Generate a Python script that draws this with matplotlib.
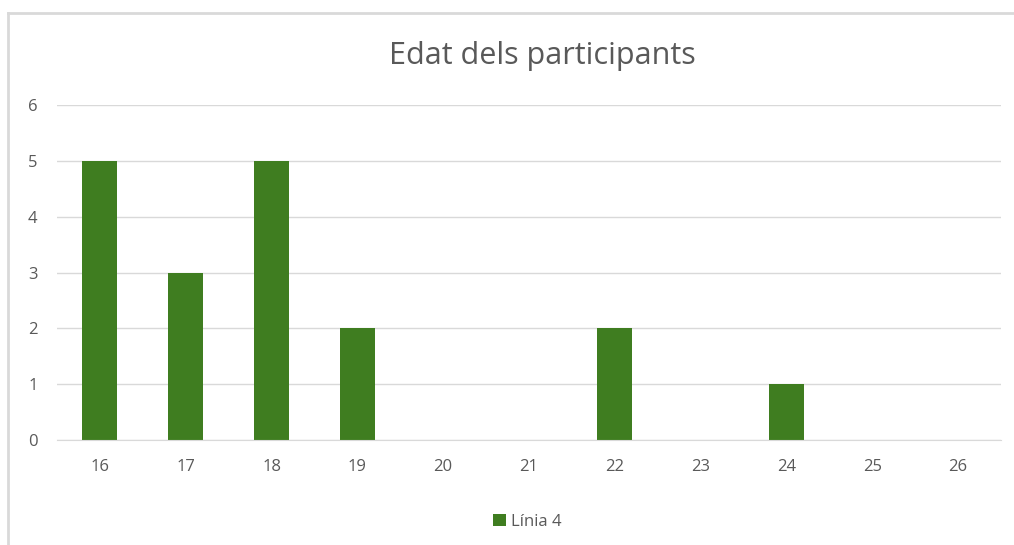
import matplotlib
matplotlib.use('Agg')
import matplotlib.pyplot as plt
from matplotlib.lines import Line2D
from matplotlib.patches import Patch

ages   = ['16', '17', '18', '19', '20', '21', '22', '23', '24', '25', '26']
counts = [5, 3, 5, 2, 0, 0, 2, 0, 1, 0, 0]

BAR_COLOR  = '#3f7d20'
TEXT_COLOR = '#595959'
GRID_COLOR = '#d9d9d9'

plt.rcParams['font.family'] = ['Open Sans', 'DejaVu Sans']

fig = plt.figure(figsize=(10.14, 5.45), dpi=100)
ax = fig.add_axes([0.0562, 0.1927, 0.931, 0.6143])

x = range(len(ages))
ax.bar(x, counts, width=0.41, color=BAR_COLOR, label='Línia 4', zorder=3)

ax.set_xlim(-0.5, len(ages) - 0.5)
ax.set_ylim(0, 6)
ax.set_xticks(list(x))
ax.set_xticklabels(ages)
ax.set_yticks(range(7))
ax.tick_params(axis='both', length=0, labelsize=12, colors=TEXT_COLOR)
ax.tick_params(axis='x', pad=14)
ax.tick_params(axis='y', pad=14)
ax.yaxis.grid(True, color=GRID_COLOR, linewidth=1.0, zorder=0)
for side in ['top', 'right', 'left']:
    ax.spines[side].set_visible(False)
ax.spines['bottom'].set_color(GRID_COLOR)
ax.spines['bottom'].set_zorder(4)

fig.text(0.535, 0.898, 'Edat dels participants', ha='center', va='center',
         fontsize=22, color=TEXT_COLOR)

handles = [Patch(facecolor=BAR_COLOR, label='Línia 4')]
fig.legend(handles=handles, loc='center', bbox_to_anchor=(0.52, 0.042), frameon=False,
           fontsize=12, labelcolor=TEXT_COLOR, handlelength=0.75, handleheight=0.75,
           handletextpad=0.3)

# chart frame (top and left edge visible)
fig.add_artist(Line2D([0.0079, 1.0], [0.976, 0.976], color=GRID_COLOR, linewidth=2,
                      transform=fig.transFigure))
fig.add_artist(Line2D([0.0079, 0.0079], [0.0, 0.976], color=GRID_COLOR, linewidth=2,
                      transform=fig.transFigure))

fig.savefig('out.png', dpi=100)
